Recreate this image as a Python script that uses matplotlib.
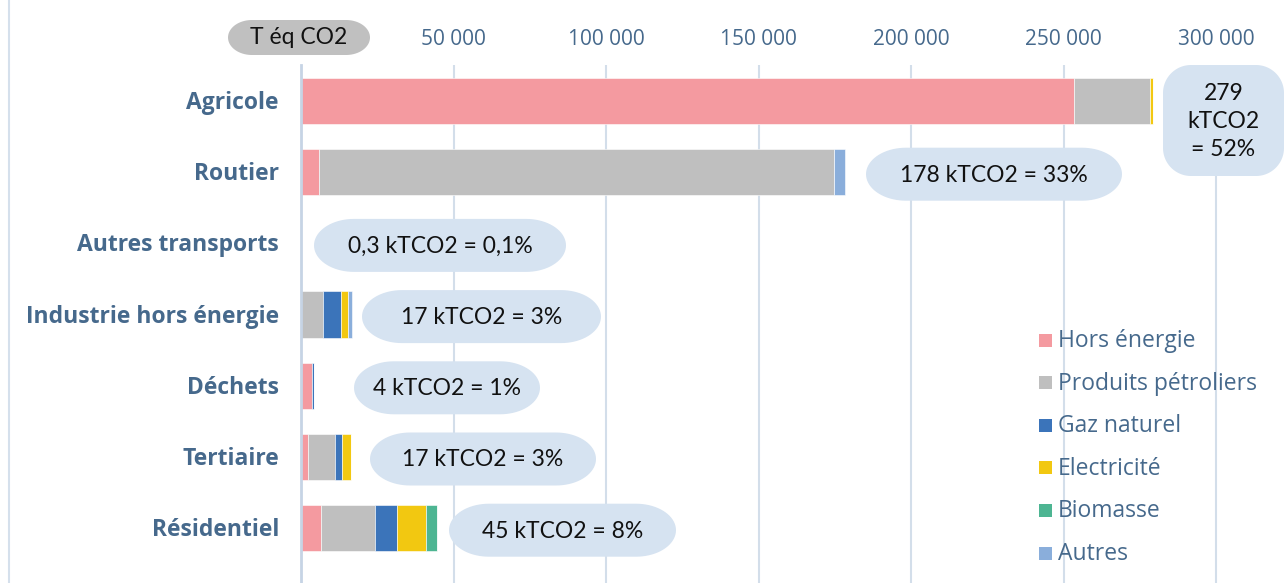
import matplotlib
matplotlib.use("Agg")
import matplotlib.pyplot as plt
from matplotlib.patches import Polygon, Rectangle
import numpy as np

# Emissions by sector, tonnes CO2 eq, split by energy source
sectors = ["Agricole", "Routier", "Autres transports", "Industrie hors énergie",
           "Déchets", "Tertiaire", "Résidentiel"]
sources = ["Hors énergie", "Produits pétroliers", "Gaz naturel",
           "Electricité", "Biomasse", "Autres"]
colors = ["#f49aa0", "#bfbfbf", "#3b74ba", "#f2c811", "#4db592", "#8aaedb"]

hors_energie = [253500, 5900, 0, 0, 3600, 2200, 6600]
petrole = [25000, 168900, 300, 7300, 0, 8800, 17800]
gaz = [0, 0, 0, 5700, 500, 2400, 7100]
electricite = [800, 0, 0, 2300, 0, 3100, 9400]
biomasse = [0, 0, 0, 0, 0, 0, 3800]
autres = [0, 3600, 0, 1400, 0, 0, 0]

totals_kt = ["279", "178", "0,3", "17", "4", "17", "45"]
shares = ["52%", "33%", "0,1%", "3%", "1%", "3%", "8%"]

ticks = [50000, 100000, 150000, 200000, 250000, 300000]

W, H = 1284, 583
fig = plt.figure(figsize=(W / 100, H / 100), dpi=100)
fig.patch.set_facecolor("white")

label_col = "#46698c"
grid_col = "#d3deea"


def pill(x0, y0, w, h, rx, ry, **kw):
    # rounded box with elliptical corners, in pixel units
    t = np.linspace(0, np.pi / 2, 20)
    corners = [
        (x0 + w - rx, y0 + ry, -np.pi / 2),
        (x0 + w - rx, y0 + h - ry, 0),
        (x0 + rx, y0 + h - ry, np.pi / 2),
        (x0 + rx, y0 + ry, np.pi),
    ]
    pts = []
    for cx, cy, a in corners:
        ang = a + t
        pts.append(np.column_stack([cx + rx * np.cos(ang), cy + ry * np.sin(ang)]))
    return Polygon(np.vstack(pts), closed=True, **kw)


ax = fig.add_axes([301 / W, 0, (W - 301) / W, (H - 65) / H])
ax.set_xlim(0, 300000 * (W - 301) / (1216 - 301))
ax.set_ylim(6.77, -0.506)

series = [hors_energie, petrole, gaz, electricite, biomasse, autres]
left = np.zeros(len(sectors))
y = np.arange(len(sectors))
for vals, col, name in zip(series, colors, sources):
    ax.barh(y, vals, left=left, height=0.65, color=col, label=name,
            edgecolor="white", linewidth=0.4, zorder=3)
    left += np.array(vals)

ax.set_xticks(ticks)
ax.set_xticklabels([f"{t:,}".replace(",", " ") for t in ticks])
ax.xaxis.tick_top()
ax.tick_params(axis="x", length=0, pad=11, labelsize=15, labelcolor=label_col)
for lab in ax.get_xticklabels():
    lab.set_family("Open Sans")
ax.set_yticks([])
ax.grid(axis="x", color=grid_col, linewidth=1.5, zorder=0)
for s in ["top", "right", "bottom"]:
    ax.spines[s].set_visible(False)
ax.spines["left"].set_color("#c6d4e5")
ax.spines["left"].set_linewidth(2)
ax.spines["left"].set_zorder(4)

# overlay in figure pixels for labels, bubbles and legend
ov = fig.add_axes([0, 0, 1, 1], zorder=5)
ov.set_xlim(0, W)
ov.set_ylim(H, 0)
ov.axis("off")
ov.patch.set_alpha(0)

ov.plot([9, 9], [0, H], color="#d5e0ec", linewidth=1.5)

row_y = [101 + 71.2 * i for i in range(len(sectors))]
for name, yy in zip(sectors, row_y):
    ov.text(279, yy + 2, name, ha="right", va="center", fontsize=16.5,
            fontweight="bold", color=label_col, family="Open Sans")

# unit tag in place of the 0 tick
ov.add_patch(pill(228, 20, 142, 35, 24, 17.5, facecolor="#c0c0c0",
                  edgecolor="none"))
ov.text(299, 38, "T éq CO2", ha="center", va="center", fontsize=16.5,
        color="#111111", family="Lato")

bubble_col = "#d6e3f1"
bubble_x = [1163, 866, 314, 362, 354, 370, 449]
bubble_w = [121, 256, 252, 239, 186, 226, 227]
for i, (tk, sh) in enumerate(zip(totals_kt, shares)):
    if i == 0:
        x0, y0, w, h = bubble_x[i], 65, bubble_w[i], 111
        txt = f"{tk}\nkTCO2\n= {sh}"
        rx, ry = 28, 28
    else:
        x0, w, h = bubble_x[i], bubble_w[i], 53
        y0 = row_y[i] + 2 - h / 2
        txt = f"{tk} kTCO2 = {sh}"
        rx, ry = 40, h / 2
    ov.add_patch(pill(x0, y0, w, h, rx, ry, facecolor=bubble_col,
                      edgecolor="none"))
    ov.text(x0 + w / 2, y0 + h / 2 + 1, txt, ha="center", va="center",
            fontsize=16.5, color="#111111", family="Lato", linespacing=1.4)

# legend
for k, (name, col) in enumerate(zip(sources, colors)):
    ly = 340 + 42.6 * k
    ov.add_patch(Rectangle((1039, ly - 6.5), 13, 13, facecolor=col,
                           edgecolor="none"))
    ov.text(1058, ly + 1, name, ha="left", va="center", fontsize=16.5,
            color=label_col, family="Open Sans")

fig.savefig("out.png", dpi=100)
